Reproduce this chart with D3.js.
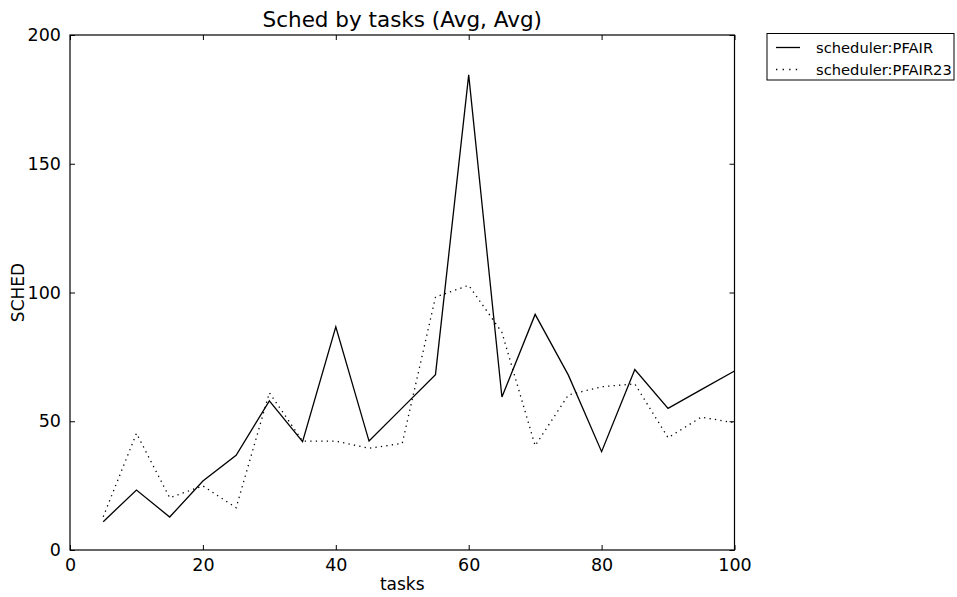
<!DOCTYPE html>
<html>
<head>
<meta charset="utf-8">
<script src="https://cdn.jsdelivr.net/npm/d3@7/dist/d3.min.js"></script>
<style>
  body { margin: 0; background: #fff; }
  svg { display: block; font-family: "DejaVu Sans", sans-serif; }
</style>
</head>
<body>
<svg id="chart" width="957" height="597"></svg>
<script>
const title = "Sched by tasks (Avg, Avg)";
const xLabel = "tasks";
const yLabel = "SCHED";
const tasks = [5, 10, 15, 20, 25, 30, 35, 40, 45, 50, 55, 60, 65, 70, 75, 80, 85, 90, 95, 100];
const pfair = [11.0, 23.3, 12.8, 26.8, 36.8, 57.9, 42.1, 86.7, 42.3, 55.2, 68.1, 184.5, 59.4, 91.5, 67.9, 38.2, 70.1, 55.0, 62.3, 69.5];
const pfair23 = [12.9, 45.3, 20.3, 24.9, 16.4, 61.1, 42.3, 42.3, 39.5, 41.4, 98.2, 102.8, 84.5, 40.5, 60.2, 63.4, 64.5, 43.6, 51.6, 49.4];
const seriesNames = ["scheduler:PFAIR", "scheduler:PFAIR23"];
const xTicks = [0, 20, 40, 60, 80, 100];
const yTicks = [0, 50, 100, 150, 200];

const svg = d3.select("#chart");
const L = 70, R = 734.5, T = 35, B = 550;
const x = d3.scaleLinear().domain([0, 100]).range([L, R]);
const y = d3.scaleLinear().domain([0, 200]).range([B, T]);

const series = [
  { name: seriesNames[0], values: pfair, dash: null },
  { name: seriesNames[1], values: pfair23, dash: "1.3,4.2" }
];

const line = d3.line().x(d => x(d[0])).y(d => y(d[1]));
const plot = svg.append("g");
series.forEach(s => {
  plot.append("path")
    .datum(tasks.map((t, i) => [t, s.values[i]]))
    .attr("d", line)
    .attr("fill", "none")
    .attr("stroke", "#000")
    .attr("stroke-width", 1.3)
    .attr("stroke-linejoin", "miter")
    .attr("stroke-dasharray", s.dash);
});

// axes (ticks inward, matplotlib style)
const tickLen = 5;
const fs = 17.5;
const axBottom = d3.axisBottom(x).tickValues(xTicks).tickSize(-tickLen).tickPadding(9).tickFormat(d3.format("d"));
const axTop = d3.axisTop(x).tickValues(xTicks).tickSize(-tickLen).tickFormat("");
const axLeft = d3.axisLeft(y).tickValues(yTicks).tickSize(-tickLen).tickPadding(9).tickFormat(d3.format("d"));
const axRight = d3.axisRight(y).tickValues(yTicks).tickSize(-tickLen).tickFormat("");

function style(g) {
  g.select(".domain").remove();
  g.selectAll(".tick line").attr("stroke", "#000").attr("stroke-width", 1);
  g.selectAll(".tick text").attr("fill", "#000").attr("font-size", fs).attr("font-family", "DejaVu Sans");
}
svg.append("g").attr("transform", `translate(0,${B})`).call(axBottom).call(style)
  .selectAll(".tick text").attr("dy", "0.71em");
svg.append("g").attr("transform", `translate(0,${T})`).call(axTop).call(style);
svg.append("g").attr("transform", `translate(${L},0)`).call(axLeft).call(style);
svg.append("g").attr("transform", `translate(${R},0)`).call(axRight).call(style);

// frame
svg.append("rect").attr("x", L).attr("y", T).attr("width", R - L).attr("height", B - T)
  .attr("fill", "none").attr("stroke", "#000").attr("stroke-width", 1.2);

// title & labels
svg.append("text").attr("x", (L + R) / 2).attr("y", 27).attr("text-anchor", "middle")
  .attr("font-size", 21.5).text(title);
svg.append("text").attr("x", (L + R) / 2).attr("y", 590).attr("text-anchor", "middle")
  .attr("font-size", 17).text(xLabel);
svg.append("text").attr("transform", `translate(24,${(T + B) / 2}) rotate(-90)`).attr("text-anchor", "middle")
  .attr("font-size", 17).text(yLabel);

// legend
const lg = svg.append("g");
lg.append("rect").attr("x", 767).attr("y", 33.5).attr("width", 187).attr("height", 46.5)
  .attr("fill", "#fff").attr("stroke", "#000").attr("stroke-width", 1);
series.forEach((s, i) => {
  const cy = 47.5 + i * 22;
  lg.append("line").attr("x1", 776).attr("x2", 800).attr("y1", cy).attr("y2", cy)
    .attr("stroke", "#000").attr("stroke-width", 1.3).attr("stroke-dasharray", s.dash ? "1.3,5.3" : null);
  lg.append("text").attr("x", 816).attr("y", cy).attr("dy", "0.36em")
    .attr("font-size", 14.7).text(s.name);
});
</script>
</body>
</html>
